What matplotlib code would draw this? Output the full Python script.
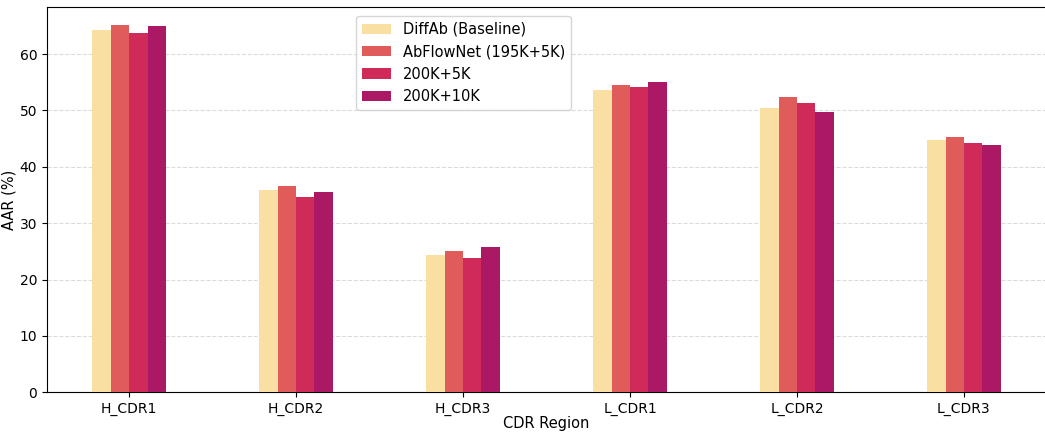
import numpy as np
import matplotlib
matplotlib.use('Agg')
import matplotlib.pyplot as plt

regions = ['H_CDR1', 'H_CDR2', 'H_CDR3', 'L_CDR1', 'L_CDR2', 'L_CDR3']
methods = ['DiffAb (Baseline)', 'AbFlowNet (195K+5K)', '200K+5K', '200K+10K']
diffab = [64.2, 35.8, 24.3, 53.6, 50.5, 44.8]
abflownet = [65.1, 36.5, 25.1, 54.5, 52.4, 45.3]
k200_5 = [63.7, 34.6, 23.8, 54.2, 51.3, 44.3]
k200_10 = [64.9, 35.6, 25.8, 55.1, 49.8, 43.8]
series = [diffab, abflownet, k200_5, k200_10]
colors = ['#f9e0a2', '#e05c5b', '#d02a58', '#ab1863']

fig, ax = plt.subplots(figsize=(10.45, 4.32), dpi=100)
fig.subplots_adjust(left=0.045, right=1.001, top=0.984, bottom=0.092)

x = np.arange(len(regions))
w = 0.11
for i, (vals, lab, c) in enumerate(zip(series, methods, colors)):
    ax.bar(x + (i - 1.5) * w, vals, width=w, color=c, label=lab, zorder=3)

ax.set_xticks(x)
ax.set_xticklabels(regions)
ax.set_xlabel('CDR Region', fontsize=10.5, labelpad=0)
ax.set_ylabel('AAR (%)', fontsize=10.5, labelpad=2)
ax.grid(axis='y', linestyle='--', color='#cccccc', alpha=0.7, zorder=0)
ax.legend(loc='upper left', bbox_to_anchor=(0.302, 0.995), fontsize=10.5)

fig.savefig('out.png', dpi=100)
